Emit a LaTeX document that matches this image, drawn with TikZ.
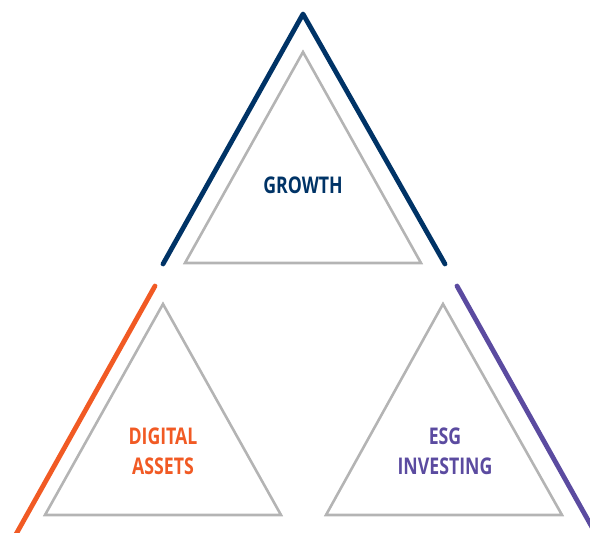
\documentclass[tikz,border=0pt]{standalone}
\usepackage{fontspec}
\setsansfont[FakeStretch=0.77]{Open Sans}
\definecolor{growthblue}{RGB}{0,51,102}
\definecolor{digorange}{RGB}{241,90,36}
\definecolor{esgpurple}{RGB}{91,75,160}
\definecolor{trigrey}{RGB}{180,180,180}
\tikzset{
  tri/.style={draw=trigrey,line width=2.6pt,line join=miter},
  chev/.style={line width=4.8pt,line cap=round,line join=round},
  lbl/.style={font=\sffamily\bfseries\fontsize{23}{30}\selectfont,align=center,inner sep=0pt}
}
\begin{document}
\begin{tikzpicture}[x=1pt,y=-1pt]
  \useasboundingbox (0,0) rectangle (590,533);
  \clip (0,0) rectangle (590,533);
  % grey triangles
  \draw[tri] (303,52) -- (421,263) -- (185,263) -- cycle;
  \draw[tri] (163,304) -- (281,515) -- (45,515) -- cycle;
  \draw[tri] (443,304) -- (562,515) -- (326,515) -- cycle;
  % coloured strokes
  \draw[chev,growthblue] (163,264) -- (303,14) -- (445,264);
  \draw[chev,digorange] (155,286) -- (10,545);
  \draw[chev,esgpurple] (457,286) -- (602,545);
  % labels
  \node[lbl,text=growthblue] (growth) at (303,185) {GROWTH};
  \node[lbl,text=digorange] (digital) at (163,451) {DIGITAL\\ASSETS};
  \node[lbl,text=esgpurple] (esg) at (445,451) {ESG\\INVESTING};
\end{tikzpicture}
\end{document}
